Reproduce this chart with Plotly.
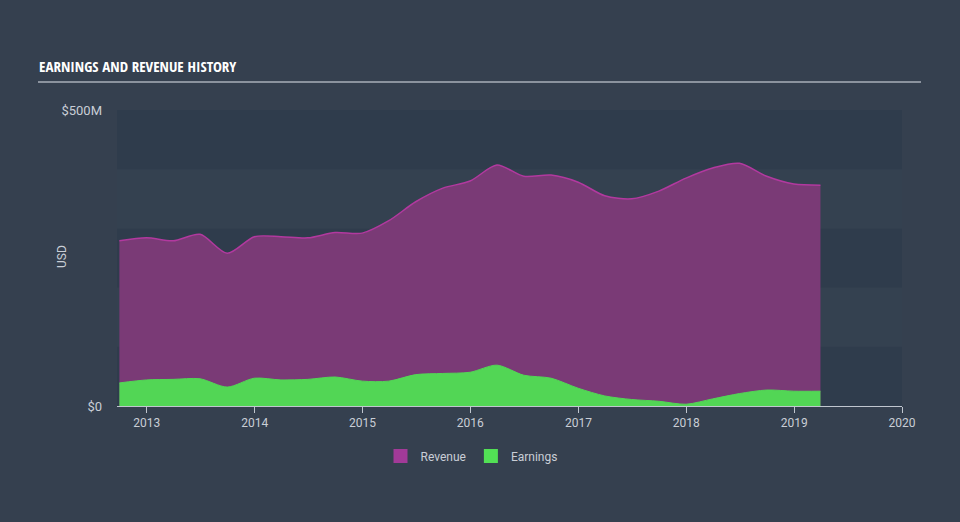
import plotly.graph_objects as go

dates = ["2012-09-30", "2012-12-31", "2013-03-31", "2013-06-30", "2013-09-30", "2013-12-31",
         "2014-03-31", "2014-06-30", "2014-09-30", "2014-12-31", "2015-03-31", "2015-06-30",
         "2015-09-30", "2015-12-31", "2016-03-31", "2016-06-30", "2016-09-30", "2016-12-31",
         "2017-03-31", "2017-06-30", "2017-09-30", "2017-12-31", "2018-03-31", "2018-06-30",
         "2018-09-30", "2018-12-31", "2019-03-31"]
revenue = [279, 284, 279, 290, 258, 286, 286, 284, 293, 292, 313, 345, 368, 380, 407, 388,
           390, 378, 355, 350, 363, 385, 402, 410, 388, 375, 373]
earnings = [39, 44, 45, 46, 32, 47, 44, 45, 49, 42, 42, 53, 55, 57, 69, 52, 47, 30, 17, 11,
            8, 3, 12, 21, 27, 25, 25]
x_ticks = ["2013-01-01", "2014-01-01", "2015-01-01", "2016-01-01", "2017-01-01",
           "2018-01-01", "2019-01-01", "2020-01-01"]
x_tick_text = ["2013", "2014", "2015", "2016", "2017", "2018", "2019", "2020"]
y_ticks = [0, 500]
y_tick_text = ["$0", "$500M"]

BG = "#35404f"
DARK = "#2f3c4c"
LIGHT = "#344150"
TXT = "#c9ced6"
FONT = "Roboto, 'Open Sans', sans-serif"

fig = go.Figure()
fig.add_trace(go.Scatter(
    x=dates, y=revenue, name="Revenue", mode="lines", showlegend=False,
    line=dict(color="#b2399f", width=1.5, shape="spline", smoothing=0.8),
    fill="tozeroy", fillcolor="#7a3a76",
))
fig.add_trace(go.Scatter(
    x=dates, y=earnings, name="Earnings", mode="lines", showlegend=False,
    line=dict(color="#52d655", width=1, shape="spline", smoothing=0.8),
    fill="tozeroy", fillcolor="#52d655",
))
# legend swatches
fig.add_trace(go.Scatter(x=[None], y=[None], name="Revenue", mode="markers",
                         marker=dict(symbol="square", size=14, color="#a23a98")))
fig.add_trace(go.Scatter(x=[None], y=[None], name="Earnings", mode="markers",
                         marker=dict(symbol="square", size=14, color="#52e055")))

shapes = []
for i in range(5):
    shapes.append(dict(type="rect", xref="paper", yref="y", x0=0, x1=1,
                       y0=i * 100, y1=(i + 1) * 100, layer="below", line_width=0,
                       fillcolor=DARK if i % 2 == 0 else LIGHT))
# title underline
shapes.append(dict(type="line", xref="paper", yref="paper",
                   x0=-79 / 785, x1=(921 - 117) / 785, y0=1 + 28 / 296,
                   y1=1 + 28 / 296, line=dict(color="#a9afb8", width=1.5)))

ann = [
    dict(text="<b>EARNINGS AND REVENUE HISTORY</b>", xref="paper", yref="paper",
         x=-80 / 785, y=1 + 32 / 296, xanchor="left", yanchor="bottom", showarrow=False,
         font=dict(family="'Open Sans Condensed', 'Roboto Condensed', sans-serif",
                   size=15, color="#ffffff")),
    dict(text="USD", xref="paper", yref="paper", x=(62 - 117) / 785, y=(406 - 257) / 296,
         xanchor="center", yanchor="middle", textangle=-90, showarrow=False,
         font=dict(size=12, color=TXT)),
]

fig.update_layout(
    width=960, height=522,
    margin=dict(l=117, r=58, t=110, b=116),
    paper_bgcolor=BG, plot_bgcolor=BG,
    font=dict(family=FONT, color=TXT, size=12),
    shapes=shapes,
    showlegend=True,
    legend=dict(orientation="h", x=0.5 - 38 / 785, xanchor="center", y=-0.12, yanchor="top",
                font=dict(size=12, color=TXT), bgcolor="rgba(0,0,0,0)",
                itemwidth=30),
    annotations=ann,
    xaxis=dict(
        type="date", range=["2012-09-22", "2020-01-01"],
        tickvals=x_ticks, ticktext=x_tick_text,
        showgrid=False, zeroline=False,
        showline=True, linecolor="#c0c6cf", linewidth=1,
        ticks="outside", ticklen=6, tickcolor="#c0c6cf",
        tickfont=dict(size=12, color=TXT),
    ),
    yaxis=dict(
        range=[0, 500], tickvals=y_ticks, ticktext=y_tick_text,
        showgrid=False, zeroline=False, showline=False,
        ticks="", ticklabelstandoff=14,
        tickfont=dict(size=13, color=TXT),
    ),
)

fig.write_html("out.html")
